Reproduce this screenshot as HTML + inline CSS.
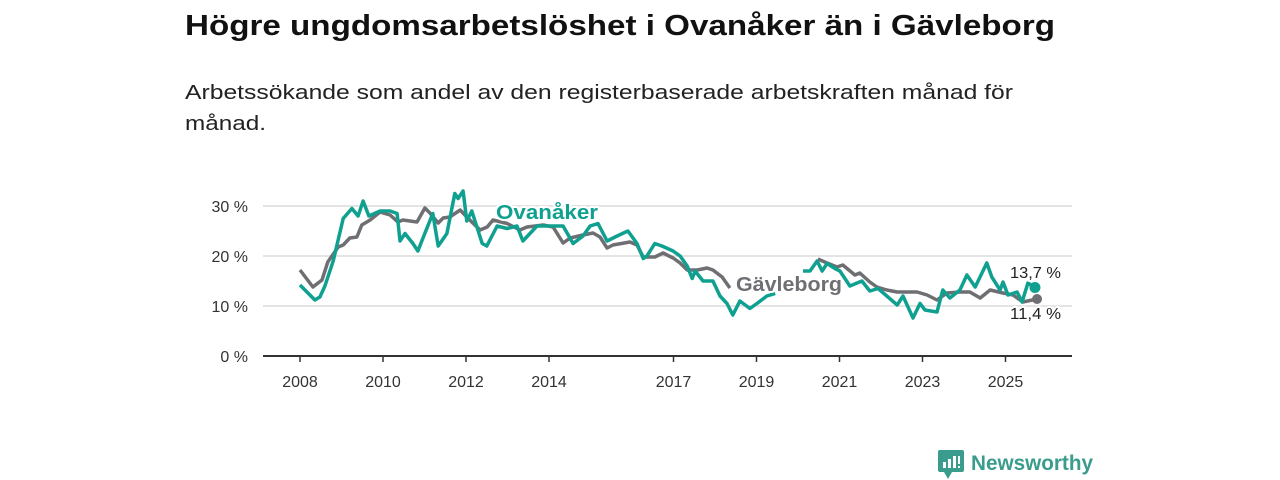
<!DOCTYPE html>
<html><head><meta charset="utf-8"><style>
html,body{margin:0;padding:0;background:#fff;}
svg{display:block;font-family:"Liberation Sans",sans-serif;}
</style></head><body>
<svg id="chart" width="1280" height="480" viewBox="0 0 1280 480">
<text x="185" y="35" font-size="29" font-weight="bold" fill="#111" textLength="870" lengthAdjust="spacingAndGlyphs">Högre ungdomsarbetslöshet i Ovanåker än i Gävleborg</text>
<text x="185" y="99" font-size="20" fill="#222" textLength="828" lengthAdjust="spacingAndGlyphs">Arbetssökande som andel av den registerbaserade arbetskraften månad för</text>
<text x="185" y="130" font-size="20" fill="#222" textLength="81" lengthAdjust="spacingAndGlyphs">månad.</text>
<g id="grid"></g><g id="axes"></g><g id="series"></g><g id="labels"></g>
<g>
<rect x="938" y="450" width="26" height="22" rx="2" fill="#3a9c8c"/>
<path d="M944 472 L948 479 L952 472 Z" fill="#3a9c8c"/>
<rect x="943" y="462" width="3" height="6" fill="#fff"/><rect x="948" y="459" width="3" height="9" fill="#fff"/><rect x="953" y="456" width="3" height="12" fill="#fff"/><rect x="958" y="456" width="2" height="8" fill="#fff"/><rect x="958" y="466" width="2" height="2" fill="#fff"/>
<text x="971" y="470" font-size="21" font-weight="bold" fill="#3a9c8c" textLength="122" lengthAdjust="spacingAndGlyphs">Newsworthy</text>
</g>
</svg>
<script>
const yTicks=[0,10,20,30];
const xTickYears=[2008,2010,2012,2014,2017,2019,2021,2023,2025];
const ovYears=[2008.0,2008.36,2008.48,2008.6,2008.8,2009.04,2009.25,2009.4,2009.52,2009.66,2009.93,2010.17,2010.34,2010.41,2010.53,2010.72,2010.84,2010.96,2011.2,2011.33,2011.54,2011.73,2011.81,2011.93,2012.02,2012.14,2012.39,2012.5,2012.75,2012.99,2013.23,2013.37,2013.71,2013.95,2014.34,2014.58,2014.82,2014.99,2015.18,2015.4,2015.64,2015.9,2016.12,2016.27,2016.36,2016.55,2016.72,2016.99,2017.16,2017.33,2017.45,2017.52,2017.71,2017.95,2018.12,2018.29,2018.43,2018.6,2018.84,2019.01,2019.25,2019.45,2019.8,2020.12,2020.29,2020.46,2020.58,2020.7,2020.89,2021.01,2021.25,2021.54,2021.73,2021.93,2022.14,2022.39,2022.53,2022.77,2022.94,2023.06,2023.35,2023.49,2023.66,2023.9,2024.07,2024.27,2024.55,2024.67,2024.87,2024.94,2025.06,2025.28,2025.4,2025.54,2025.71];
const ovValues=[14.2,11.2,11.8,14,19,27.5,29.5,28,31,28,29,29,28.5,23,24.5,22.5,21,23.5,28.5,22,24.5,32.5,31.5,33,27,29,22.5,22,26,25.5,26,23,26,26,26,22.5,24,26,26.5,23,24,25,22.5,19.5,20,22.5,22,21,20,18,15.5,17,15,15,12,10.5,8.2,11,9.5,10.5,12,12.5,null,17,17,19,17,18.5,17.5,17,14,15,13,13.5,12,10.2,12,7.6,10.5,9.2,8.8,13.2,11.6,13.2,16.2,13.8,18.6,15.8,13.2,14.8,12.2,12.8,10.8,14.6,13.7];
const gvYears=[2008.0,2008.31,2008.53,2008.67,2008.92,2009.04,2009.2,2009.37,2009.49,2009.69,2009.93,2010.17,2010.36,2010.48,2010.82,2011.01,2011.13,2011.33,2011.45,2011.61,2011.86,2012.02,2012.14,2012.34,2012.51,2012.65,2012.99,2013.3,2013.47,2013.86,2014.1,2014.34,2014.51,2014.82,2015.06,2015.23,2015.4,2015.54,2015.95,2016.12,2016.27,2016.55,2016.75,2016.99,2017.16,2017.33,2017.57,2017.81,2017.95,2018.17,2018.36,2019.5,2020.48,2020.7,2020.94,2021.08,2021.37,2021.49,2021.73,2021.9,2022.14,2022.39,2022.87,2023.11,2023.35,2023.59,2023.9,2024.14,2024.39,2024.63,2024.94,2025.18,2025.42,2025.76];
const gvValues=[17.2,13.8,15.2,18.8,21.8,22.2,23.6,23.8,26.2,27.2,28.8,28.2,26.8,27.2,26.8,29.6,28.6,26.6,27.6,27.8,29.2,27.8,26.8,25.2,25.8,27.2,26.5,25.2,25.8,26.2,25.8,22.6,23.6,24.2,24.6,23.8,21.6,22.2,22.8,22.2,19.8,19.8,20.6,19.6,18.6,17.2,17.2,17.6,17.2,15.8,13.6,null,19.4,18.6,17.8,18.2,16.2,16.6,14.8,13.8,13.2,12.8,12.8,12.2,11.2,12.6,12.8,12.8,11.6,13.2,12.6,12.2,10.8,11.4];
const NS='http://www.w3.org/2000/svg';
const X=y=>300+(y-2008)*41.5;
const Y=v=>356-v*5;
function mk(tag,attrs,parent){const e=document.createElementNS(NS,tag);for(const k in attrs)e.setAttribute(k,attrs[k]);parent.appendChild(e);return e;}
const grid=document.getElementById('grid'),axes=document.getElementById('axes'),series=document.getElementById('series'),labels=document.getElementById('labels');
yTicks.forEach(t=>{
 if(t>0){const g=mk('line',{x1:263,x2:1072,y1:Y(t),y2:Y(t),stroke:'#dcdcdc','stroke-width':1.5},grid);
 
 }
 const tx=mk('text',{x:248,y:Y(t)+6,'font-size':16,fill:'#333','text-anchor':'end'},axes);tx.textContent=t+' %';
 
 
});
const base=mk('line',{x1:263,x2:1072,y1:356,y2:356,stroke:'#333','stroke-width':2},axes);


xTickYears.forEach(yr=>{
 const tk=mk('line',{x1:X(yr),x2:X(yr),y1:356,y2:362,stroke:'#333','stroke-width':1.5},axes);
 
 
 const tx=mk('text',{x:X(yr),y:387,'font-size':16,fill:'#333','text-anchor':'middle'},axes);tx.textContent=yr;
 
 
});
function pathOf(ys,vs){let d='',pen=false;ys.forEach((y,i)=>{const v=vs[i];if(v==null){pen=false;return;}d+=(pen?'L':'M')+X(y).toFixed(1)+' '+Y(v).toFixed(1)+' ';pen=true;});return d;}
const gp=mk('path',{d:pathOf(gvYears,gvValues),fill:'none',stroke:'#6f6e73','stroke-width':3.5,'stroke-linejoin':'round'},series);


const op=mk('path',{d:pathOf(ovYears,ovValues),fill:'none',stroke:'#0fa090','stroke-width':3.5,'stroke-linejoin':'round'},series);


const gl=gvYears.length-1,ol=ovYears.length-1;
const gd=mk('circle',{cx:X(gvYears[gl]),cy:Y(gvValues[gl]),r:5,fill:'#6f6e73'},series);


const od=mk('circle',{cx:X(ovYears[ol]),cy:Y(ovValues[ol]),r:5.5,fill:'#0fa090'},series);


function lab(txt,x,y,size,col,w,bold,name){const t=mk('text',{x:x,y:y,'font-size':size,fill:col,'font-weight':bold?'bold':'normal',stroke:'#fff','stroke-width':4,'paint-order':'stroke','stroke-linejoin':'round',textLength:w,lengthAdjust:'spacingAndGlyphs'},labels);t.textContent=txt;
 
 }
lab('Ovanåker',496,219,20,'#0fa090',102,true,'ovanaker-label');
lab('Gävleborg',736,291,20,'#6f6e73',106,true,'gavleborg-label');
lab('13,7 %',1010,278,16,'#222',51,false,'ovanaker-end-value');
lab('11,4 %',1010,319,16,'#222',51,false,'gavleborg-end-value');
</script>
</body></html>
